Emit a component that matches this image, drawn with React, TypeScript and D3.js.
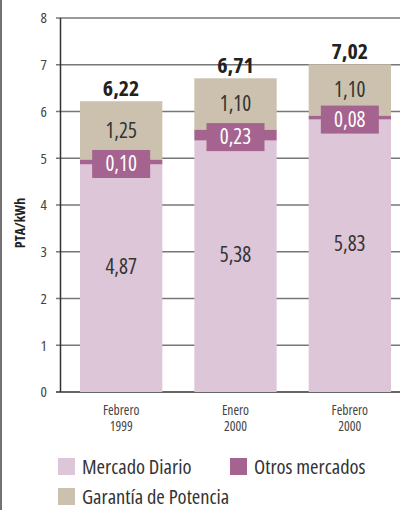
import * as d3 from 'd3';

const categories = ['Febrero\n1999', 'Enero\n2000', 'Febrero\n2000'];
const mercadoDiario = [4.87, 5.38, 5.83];
const otrosMercados = [0.1, 0.23, 0.08];
const garantia = [1.25, 1.1, 1.1];
const totals = [6.22, 6.71, 7.02];
const yTicks = [0, 1, 2, 3, 4, 5, 6, 7, 8];

const COLORS = {
  diario: '#dcc6d7',
  otros: '#a5638f',
  garantia: '#cbc1ae',
};

const FONT = '"Open Sans", sans-serif';
const txt = { fontFamily: FONT, fontStretch: 'condensed' } as const;
const fmt = (v: number) => v.toFixed(2).replace('.', ',');

const W = 400;
const H = 510;

export default function App() {
  const y = d3.scaleLinear().domain([0, 8]).range([392, 18]);
  const x = d3
    .scaleBand<number>()
    .domain(categories.map((_, i) => i))
    .range([80, 391])
    .paddingInner(0.28)
    .paddingOuter(0);
  const bw = x.bandwidth();

  const stacks = categories.map((_, i) => {
    const d0 = 0;
    const d1 = mercadoDiario[i];
    const o1 = d1 + otrosMercados[i];
    const g1 = o1 + garantia[i];
    return { d0, d1, o1, g1 };
  });

  return (
    <svg width={W} height={H} style={{ display: 'block', position: 'absolute', left: 0, top: 0 }}>
      <rect width={W} height={H} fill="#fff" />
      {/* left frame line */}
      <line x1={1} x2={1} y1={0} y2={H} stroke="#444" strokeWidth={1.5} />

      {/* gridlines */}
      {yTicks.map((t) => (
        <g key={t}>
          <line x1={56} x2={W} y1={y(t)} y2={y(t)} stroke={t === 0 ? '#333' : '#777'} strokeWidth={t === 0 ? 1.5 : 1.3} />
          <text x={47} y={y(t)} dy="0.35em" textAnchor="end" style={txt} fontSize={15} fill="#444">
            {t}
          </text>
        </g>
      ))}
      <line x1={60.5} x2={60.5} y1={y(8)} y2={y(0)} stroke="#333" strokeWidth={1.5} />

      {/* axis title */}
      <text
        transform={`translate(25,${(y(0) + y(8)) / 2 + 18}) rotate(-90)`}
        textAnchor="middle"
        style={txt}
        fontWeight="bold"
        fontSize={14}
        fill="#222"
      >
        PTA/kWh
      </text>

      {/* bars */}
      {stacks.map((s, i) => {
        const bx = x(i) || 0;
        const cx = bx + bw / 2;
        const otrosMid = (y(s.d1) + y(s.o1)) / 2;
        return (
          <g key={i}>
            <rect x={bx} y={y(s.d1)} width={bw} height={y(s.d0) - y(s.d1)} fill={COLORS.diario} />
            <rect x={bx} y={y(s.g1)} width={bw} height={y(s.o1) - y(s.g1)} fill={COLORS.garantia} />
            <rect x={bx} y={y(s.o1)} width={bw} height={y(s.d1) - y(s.o1)} fill={COLORS.otros} />
            <rect x={cx - 29} y={otrosMid - 12} width={58} height={28} fill={COLORS.otros} />
            <text x={cx} y={otrosMid + 2} dy="0.35em" textAnchor="middle" style={txt} fontSize={21} fill="#fff">
              {fmt(otrosMercados[i])}
            </text>
            <text
              x={cx}
              y={(y(s.o1) + y(s.g1)) / 2}
              dy="0.35em"
              textAnchor="middle"
              style={txt}
              fontSize={21}
              fill="#333"
            >
              {fmt(garantia[i])}
            </text>
            <text
              x={cx}
              y={(y(s.d0) + y(s.d1)) / 2 - 12}
              dy="0.35em"
              textAnchor="middle"
              style={txt}
              fontSize={21}
              fill="#333"
            >
              {fmt(mercadoDiario[i])}
            </text>
            <text
              x={cx}
              y={y(totals[i]) - 5}
              textAnchor="middle"
              style={txt}
              fontWeight="bold"
              fontSize={22}
              fill="#222"
            >
              {fmt(totals[i])}
            </text>
            {categories[i].split('\n').map((line, j) => (
              <text
                key={j}
                x={cx}
                y={410 + j * 16}
                dy="0.35em"
                textAnchor="middle"
                style={txt}
                fontSize={13.5}
                fill="#444"
              >
                {line}
              </text>
            ))}
          </g>
        );
      })}

      {/* legend */}
      {[
        { label: 'Mercado Diario', color: COLORS.diario, lx: 58, ly: 458 },
        { label: 'Otros mercados', color: COLORS.otros, lx: 230, ly: 458 },
        { label: 'Garantía de Potencia', color: COLORS.garantia, lx: 58, ly: 488 },
      ].map((l) => (
        <g key={l.label}>
          <rect x={l.lx} y={l.ly} width={17} height={17} fill={l.color} />
          <text x={l.lx + 24} y={l.ly + 9} dy="0.35em" style={txt} fontSize={20.5} fill="#333">
            {l.label}
          </text>
        </g>
      ))}
    </svg>
  );
}
